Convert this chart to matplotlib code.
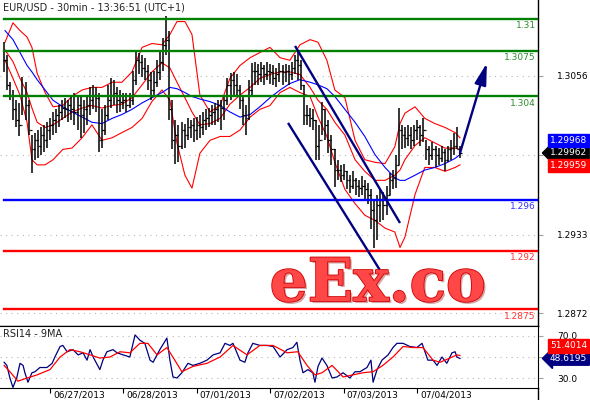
# %%
import matplotlib
matplotlib.use('Agg')
import matplotlib.pyplot as plt
import matplotlib.patheffects as pe
from matplotlib.transforms import ScaledTranslation
import numpy as np

# hourly bars, time = hours after 06/27/2013 00:00, prices in pips above 1.3000
bar_t = np.arange(-15, 135)
high_pips = [82, 72, 51, 45, 37, 35, 55, 51, 37, 10, 12, 14, 16, 18, 20,
             23, 28, 30, 33, 37, 39, 37, 41, 43, 40, 41, 37, 41, 47, 49, 47, 43, 30, 33, 49, 54, 53,
             47, 45, 43, 43, 43, 60, 76, 74, 72, 70, 64, 59, 60, 68, 76, 85, 102,
             91, 37, 22, 18, 20, 19, 23, 22, 23, 24, 26, 28, 30, 31, 33, 35, 37, 37, 41, 54, 58, 59,
             57, 49, 41, 33, 53, 66, 67, 65, 67, 64, 67, 65, 64, 62, 66, 64, 65, 64, 67, 72, 76, 68,
             49, 33, 31, 30, 22, 18, 36, 30, 22, 10, -1, -9, -13, -12, -18, -21, -18, -23, -25, -22, -25, -27,
             -32, -40, -36, -32, -34, -29, -19, -17, -5, 31, 18, 16, 18, 16, 18, 22, 18, 23, 6, 2, 5, 2, 0, 2,
             -1, 2, 6, 12, 16, 2]
low_pips = [59, 45, 37, 22, 16, 9, 26, 22, 10, -19, -9, -8, -5, -3, 0,
            6, 10, 12, 16, 22, 23, 20, 22, 18, 14, 8, 12, 18, 26, 30, 28, -3, 0, 10, 22, 31, 33,
            27, 28, 30, 28, 31, 33, 49, 57, 55, 53, 45, 37, 41, 47, 53, 60, 72,
            22, -1, -12, -11, -1, 0, 6, 8, 5, 6, 8, 10, 14, 16, 18, 18, 20, 14, 22, 33, 37, 41,
            40, 30, 18, 10, 22, 41, 49, 49, 51, 49, 53, 50, 49, 47, 51, 49, 51, 49, 53, 57, 53, 45,
            18, 18, 16, 14, -9, -9, 10, 6, -4, -13, -30, -25, -26, -25, -32, -35, -32, -36, -38, -36, -40, -43,
            -63, -77, -71, -57, -56, -52, -36, -32, -31, -13, -1, 0, 2, -1, 2, 6, 2, 5, -9, -13, -9, -15, -13, -11,
            -18, -11, -9, -5, -1, -8]
close_pips = [68, 49, 41, 30, 22, 18, 41, 33, 14, -1, 6, 2, 10, 6, 14,
              18, 22, 26, 28, 31, 30, 33, 30, 28, 33, 26, 30, 33, 37, 41, 39, 6, 14, 26, 37, 41, 43,
              37, 36, 37, 33, 37, 53, 68, 67, 62, 60, 53, 45, 51, 59, 67, 80, 84,
              30, 6, 10, 2, 14, 10, 16, 18, 14, 18, 16, 22, 23, 26, 28, 30, 33, 31, 37, 49, 53, 49,
              45, 37, 26, 23, 45, 60, 60, 57, 62, 57, 60, 59, 54, 57, 60, 59, 60, 57, 62, 68, 64, 49,
              26, 26, 23, 22, 2, 6, 30, 18, 6, -1, -17, -17, -21, -18, -25, -29, -25, -29, -31, -29, -32, -36,
              -48, -56, -44, -40, -44, -36, -25, -23, -13, 14, 10, 8, 10, 6, 14, 16, 10, 14, -1, -5, -1, -5, -8, -3,
              -9, -1, 0, 2, -1, -4]

# bollinger bands (red) and moving average (blue)
band_t = [-14.7, -12.1, -9.8, -7.5, -5.9, -4.2, -1.6, 1.0, 4.2, 7.2, 10.5, 13.7, 17.0, 20.3, 23.5,
          26.8, 30.1, 33.3, 36.6, 39.2, 41.5, 44.1, 46.4, 49.0, 52.3, 55.6, 58.8, 62.1, 65.4, 68.6,
          71.9, 75.2, 78.4, 81.7, 85.0, 87.6, 90.5, 93.1, 96.4, 99.7, 102.9, 106.2, 109.5, 112.7,
          114.4, 116.0, 119.3, 122.5, 125.8, 129.1, 132.4, 134.0]
upper_pips = [82, 97, 91, 86, 78, 58, 43, 32, 33, 40, 45, 47, 47, 51, 51, 59, 78, 81, 80, 88,
              98, 98, 88, 41, 28, 33, 54, 64, 70, 74, 78, 70, 68, 80, 84, 82, 68, 45, 39, 6,
              -9, -11, -12, 1, 19, 27, 32, 23, 19, 16, 12, 8]
mid_pips = [76, 67, 54, 43, 31, 20, 16, 18, 23, 28, 31, 33, 31, 33, 34, 39, 49, 59, 66, 62,
            51, 39, 28, 18, 19, 23, 34, 41, 47, 54, 57, 59, 59, 57, 47, 37, 30, 20, 10, -9,
            -18, -25, -25, -21, -17, -9, 2, 8, 4, 0, 0, -1]
lower_pips = [68, 54, 41, 20, -9, -13, -13, -9, -1, 0, 8, 18, 6, 8, 12, 16, 23, 36, 45, 37,
              4, -21, -31, -4, 6, 9, 9, 14, 24, 30, 33, 43, 47, 43, 40, 24, 9, -11, -32, -43,
              -52, -56, -62, -65, -77, -69, -36, -15, -15, -18, -15, -13]
ma_pips = [91, 84, 74, 64, 59, 53, 45, 37, 32, 28, 24, 20, 19, 23, 26, 30, 35, 39, 43, 47,
           46, 43, 40, 38, 36, 33, 28, 24, 26, 32, 39, 45, 50, 53, 51, 49, 46, 40, 30, 20,
           9, -5, -15, -23, -25, -25, -21, -17, -15, -12, -8, -5]

levels = [1.31, 1.3075, 1.304, 1.296, 1.292, 1.2875]
level_labels = ['1.31', '1.3075', '1.304', '1.296', '1.292', '1.2875']
level_colors = ['#008000', '#008000', '#008000', '#0000ff', '#ff0000', '#ff0000']
label_colors = ['#2e8b2e', '#2e8b2e', '#2e8b2e', '#3333ff', '#ff3333', '#ff3333']

channel_upper = ([80.1, 114.4], [1.30791, 1.29420])
channel_lower = ([77.8, 107.8], [1.30195, 1.29056])
target_arrow = ([134.0, 142.8], [1.29962, 1.30659])

rsi_t = [-15.0, -14.1, -13.1, -12.1, -10.8, -9.8, -8.8, -8.2, -7.2, -5.9, -4.9, -3.3, -1.0, 0.7,
         1.6, 3.3, 4.2, 5.6, 7.5, 9.2, 10.8, 12.1, 13.1, 14.1, 16.3, 17.3, 18.6, 20.6, 21.9, 23.9,
         26.1, 27.8, 29.4, 31.0, 32.7, 33.7, 35.9, 38.2, 39.2, 40.2, 41.5, 43.1, 45.1, 46.7, 49.0,
         51.3, 53.3, 55.6, 57.2, 58.8, 59.8, 61.1, 62.1, 63.7, 64.7, 66.3, 68.6, 70.9, 72.9, 75.2,
         77.5, 79.4, 80.7, 81.7, 82.7, 84.3, 85.9, 86.6, 87.6, 88.9, 90.5, 92.2, 93.8, 95.8, 98.0,
         99.7, 101.3, 103.6, 104.9, 105.6, 106.9, 108.5, 110.5, 112.1, 113.4, 115.4, 117.6, 119.9,
         121.6, 123.5, 125.2, 126.5, 128.1, 129.7, 131.4, 132.4, 133.0, 134.0]
rsi_vals = [45, 42, 30, 21, 31, 44, 42, 35, 26, 35, 36, 40, 40, 44,
            50, 60, 61, 55, 57, 52, 54, 47, 57, 50, 38, 47, 55, 57, 54, 52,
            50, 71, 66, 63, 47, 45, 57, 68, 47, 31, 30, 35, 44, 42, 44,
            47, 52, 54, 63, 61, 63, 54, 47, 45, 54, 63, 61, 61, 60, 50,
            57, 59, 64, 47, 35, 38, 35, 26, 41, 49, 42, 30, 31, 35, 30,
            36, 36, 40, 47, 26, 38, 47, 52, 59, 63, 63, 60, 59,
            63, 47, 47, 42, 50, 44, 54, 55, 50, 48.6195]
rsi_ma_t = [-15.0, -13.1, -10.5, -7.5, -4.2, 0.0, 3.3, 6.5, 9.8, 13.1, 16.3, 19.6, 22.9, 26.1,
            29.4, 32.0, 35.0, 38.2, 40.8, 43.1, 46.7, 51.3, 55.6, 59.8, 64.4, 68.6, 72.9, 77.5,
            81.0, 84.0, 86.6, 88.9, 92.2, 95.8, 99.0, 102.3, 105.6, 108.8, 112.1, 115.4, 118.6,
            121.9, 125.2, 127.5, 130.7, 133.0, 134.0]
rsi_ma_vals = [42, 36, 27, 30, 33, 38, 50, 57, 55, 52, 49, 50, 55, 54,
               63, 63, 52, 59, 47, 36, 41, 44, 50, 61, 52, 61, 61, 54,
               55, 42, 33, 35, 42, 31, 33, 35, 36, 42, 50, 60, 59,
               59, 47, 45, 49, 52, 51.4014]

day_ticks = [0, 24, 48, 72, 96, 120]
day_labels = ['06/27/2013', '06/28/2013', '07/01/2013', '07/02/2013', '07/03/2013', '07/04/2013']
# 1.2995 and 50.0 sit under the last-value boxes, only their grid lines show
price_ticks = [1.3056, 1.2995, 1.2933, 1.2872]
price_tick_labels = ['1.3056', '', '1.2933', '1.2872']
rsi_ticks = [70, 50, 30]
rsi_tick_labels = ['70.0', '', '30.0']

ask_px, last_px, bid_px = 1.29968, 1.29962, 1.29959
rsi_last, rsi_ma_last = 48.6195, 51.4014

# %%
W, H = 590, 400
fig = plt.figure(figsize=(W / 100, H / 100), dpi=100)
ax = fig.add_axes([0, 1 - 326 / H, 538 / W, 326 / H])
rx = fig.add_axes([0, 1 - 388 / H, 538 / W, 62 / H], sharex=ax)

high = 1.3 + np.array(high_pips) / 1e4
low = 1.3 + np.array(low_pips) / 1e4
close = 1.3 + np.array(close_pips) / 1e4
opn = np.r_[close[0], close[:-1]]

ax.vlines(bar_t, low, high, color='black', lw=1.1, zorder=3)
ax.hlines(close, bar_t, bar_t + 0.5, color='black', lw=0.9, zorder=3)
ax.hlines(opn, bar_t - 0.5, bar_t, color='black', lw=0.9, zorder=3)

bt = np.array(band_t)
ax.plot(bt, 1.3 + np.array(upper_pips) / 1e4, color='#ff0000', lw=0.8, zorder=2)
ax.plot(bt, 1.3 + np.array(mid_pips) / 1e4, color='#ff0000', lw=0.8, zorder=2)
ax.plot(bt, 1.3 + np.array(lower_pips) / 1e4, color='#ff0000', lw=0.8, zorder=2)
ax.plot(bt, 1.3 + np.array(ma_pips) / 1e4, color='#0000ff', lw=0.8, zorder=2)

for lv, lab, c, tc in zip(levels, level_labels, level_colors, label_colors):
    ax.axhline(lv, xmin=4 / 538, xmax=1, color=c, lw=1.7, zorder=4)
    ax.annotate(lab, xy=(1, lv), xycoords=('axes fraction', 'data'),
                xytext=(-1.5, -1.5), textcoords='offset points',
                ha='right', va='top', fontsize=6.5, color=tc, annotation_clip=False)

ax.plot(*channel_upper, color='#000080', lw=1.7, zorder=5, solid_capstyle='butt')
ax.plot(*channel_lower, color='#000080', lw=1.7, zorder=5, solid_capstyle='butt')
ax.annotate('', xy=(target_arrow[0][1], target_arrow[1][1]),
            xytext=(target_arrow[0][0], target_arrow[1][0]),
            arrowprops=dict(arrowstyle='-|>,head_length=1.3,head_width=0.35',
                            mutation_scale=10, color='#000080', lw=1.7,
                            shrinkA=0, shrinkB=0), zorder=5)

ax.set_xlim(-16.34, 159.5)
ax.set_ylim(1.28622, 1.31147)
ax.set_yticks(price_ticks)
ax.set_yticklabels(price_tick_labels)
ax.yaxis.tick_right()
ax.tick_params(axis='y', length=3.6, width=0.8, color='#a0a0a0', pad=10, labelsize=6.5)
ax.tick_params(axis='x', bottom=False, labelbottom=False)
ax.grid(axis='y', color='#b8b8b8', linestyle=(0, (1, 4)), lw=0.8)
for s in ['left', 'top']:
    ax.spines[s].set_visible(False)
for s in ['right', 'bottom']:
    ax.spines[s].set_linewidth(1.0)

# RSI panel
rx.plot(rsi_t, rsi_vals, color='#000080', lw=0.9, zorder=3)
rx.plot(rsi_ma_t, rsi_ma_vals, color='#ff0000', lw=0.9, zorder=3)
rx.set_ylim(20.5, 79.5)
rx.set_yticks(rsi_ticks)
rx.set_yticklabels(rsi_tick_labels)
rx.yaxis.tick_right()
rx.tick_params(axis='y', length=3.6, width=0.8, color='#a0a0a0', pad=10, labelsize=6.5)
rx.grid(axis='y', color='#b8b8b8', linestyle=(0, (1, 4)), lw=0.8)
rx.set_xticks(day_ticks)
rx.set_xticklabels(day_labels, ha='left')
rx.tick_params(axis='x', length=3.5, width=0.8, pad=-1.5, labelsize=6.5)
for lab in rx.get_xticklabels():
    lab.set_transform(lab.get_transform() + ScaledTranslation(3 / 100, 0, fig.dpi_scale_trans))
rx.spines['left'].set_visible(False)
fig.add_artist(plt.Line2D([538 / W, 538 / W], [0, 12 / H], color='black', lw=1.0))

# last value boxes
box = dict(fontsize=6.5, color='white', ha='left', va='center', annotation_clip=False,
           textcoords='offset points', xycoords=('axes fraction', 'data'))
ax.annotate('%.5f' % last_px, xy=(1, last_px), xytext=(8.5, 0),
            bbox=dict(boxstyle='larrow,pad=0.25', fc='black', ec='black'), **box)
ax.annotate('%.5f' % ask_px, xy=(1, last_px), xytext=(8.5, 9),
            bbox=dict(boxstyle='square,pad=0.25', fc='#0000ff', ec='#0000ff'), **box)
ax.annotate('%.5f' % bid_px, xy=(1, last_px), xytext=(8.5, -9),
            bbox=dict(boxstyle='square,pad=0.25', fc='#ff0000', ec='#ff0000'), **box)
rx.annotate('%.4f' % rsi_last, xy=(1, rsi_last), xytext=(8.5, 0),
            bbox=dict(boxstyle='larrow,pad=0.25', fc='#000080', ec='#000080'), **box)
rx.annotate('%.4f' % rsi_ma_last, xy=(1, rsi_last), xytext=(8.5, 9),
            bbox=dict(boxstyle='square,pad=0.25', fc='#ff0000', ec='#ff0000'), **box)

fig.text(3 / W, 1 - 7 / H, 'EUR/USD - 30min - 13:36:51 (UTC+1)', fontsize=7,
         color='#222222', va='center', ha='left')
fig.text(3 / W, 1 - 334 / H, 'RSI14 - 9MA', fontsize=7, color='#222222', va='center', ha='left')

# watermark
fig.text(378 / W, 1 - 284 / H, 'eEx.co', fontsize=43, family='DejaVu Serif', weight='bold',
         color='#ff4747', ha='center', va='center', zorder=10,
         path_effects=[pe.SimplePatchShadow(offset=(1.5, -1.5), shadow_rgbFace='#900000', alpha=0.35),
                       pe.withStroke(linewidth=1.2, foreground='#d00000')])

fig.savefig('out.png', dpi=100, facecolor='white')
